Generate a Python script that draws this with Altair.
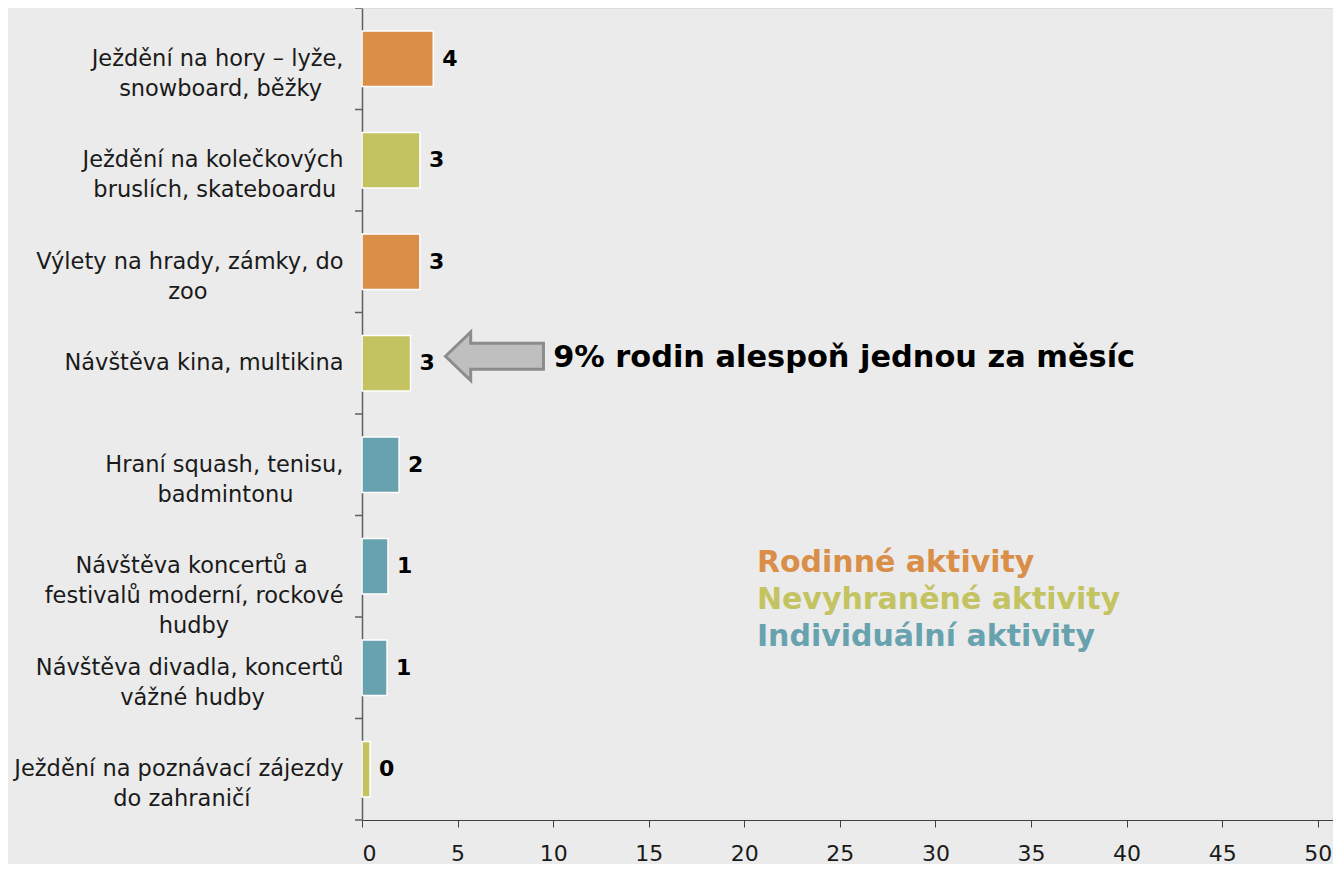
import unicodedata
import altair as alt
import pandas as pd

# ---- data ----
category_lines = [
    ["Ježdění na hory – lyže,", "snowboard, běžky"],
    ["Ježdění na kolečkových", "bruslích, skateboardu"],
    ["Výlety na hrady, zámky, do", "zoo"],
    ["Návštěva kina, multikina"],
    ["Hraní squash, tenisu,", "badmintonu"],
    ["Návštěva koncertů a", "festivalů moderní, rockové", "hudby"],
    ["Návštěva divadla, koncertů", "vážné hudby"],
    ["Ježdění na poznávací zájezdy", "do zahraničí"],
]
values = [3.73, 3.03, 3.03, 2.54, 1.94, 1.36, 1.31, 0.42]
groups = ["Rodinné", "Nevyhraněné", "Rodinné", "Nevyhraněné",
          "Individuální", "Individuální", "Individuální", "Nevyhraněné"]

group_names = ["Rodinné", "Nevyhraněné", "Individuální"]
legend_texts = ["Rodinné aktivity", "Nevyhraněné aktivity", "Individuální aktivity"]
group_colors = ["#D98F48", "#C3C361", "#68A2AF"]

annotation_text = "9% rodin alespoň jednou za měsíc"
annotation_category = 3   # row the arrow points to
arrow_x = 6.93
annotation_x = 10.0
legend_x = 20.66
legend_category = 5

x_ticks = list(range(0, 51, 5))

FONT = "DejaVu Sans"

# approximate DejaVu Sans advance widths (em) to centre multi-line labels
_W = {" ": .318, ",": .318, "–": .5, "a": .613, "b": .635, "c": .550, "d": .635,
      "e": .615, "f": .352, "g": .635, "h": .634, "i": .278, "j": .278, "k": .579,
      "l": .278, "m": .974, "n": .634, "o": .612, "p": .635, "r": .411, "s": .521,
      "t": .392, "u": .634, "v": .592, "w": .818, "x": .592, "y": .592, "z": .525,
      "J": .295, "V": .684, "N": .748, "H": .752}


def text_width(s):
    total = 0.0
    for ch in s:
        base = unicodedata.normalize("NFD", ch)[0]
        total += _W.get(base, 0.6)
    return total


def centred_label(lines):
    widths = [text_width(l) for l in lines]
    m = max(widths)
    out = []
    for l, w in zip(lines, widths):
        n = int(round((m - w) / 2 / _W[" "]))
        # no-break spaces followed by a zero-width space so they are not trimmed
        out.append(l + ("\u00a0" * n + "\u200b" if n else ""))
    return "|".join(out)


labels = [centred_label(l) for l in category_lines]

df = pd.DataFrame({"label": labels, "value": values, "group": groups})

y_scale = alt.Scale(paddingInner=0, paddingOuter=0)
color_scale = alt.Scale(domain=group_names, range=group_colors)

y_main = alt.Y(
    "label:N", sort=labels, scale=y_scale, title=None,
    axis=alt.Axis(
        ticks=False, labelExpr="split(datum.label, '|')", labelFont=FONT,
        labelFontSize=22.5, labelLineHeight=30, labelPadding=19, labelLimit=600,
        labelColor="#1a1a1a", domainColor="#5f5f5f", domainWidth=1.5,
    ),
)

bars = alt.Chart(df).mark_bar(
    height={"band": 0.545}, stroke="white", strokeWidth=1.5
).encode(
    x=alt.X(
        "value:Q", scale=alt.Scale(domain=[0, 50.8], nice=False, zero=True), title=None,
        axis=alt.Axis(
            values=x_ticks, grid=False, tickSize=7, tickColor="#404040",
            domainColor="#404040", labelFont=FONT, labelFontSize=22,
            labelPadding=16, labelColor="#1a1a1a",
        ),
    ),
    y=y_main,
    color=alt.Color("group:N", scale=color_scale, legend=None),
)

value_labels = alt.Chart(df).mark_text(
    align="left", baseline="middle", dx=9, font=FONT, fontSize=22,
    fontWeight="bold", color="black",
).encode(
    x="value:Q",
    y=alt.Y("label:N", sort=labels),
    text=alt.Text("value:Q", format=".0f"),
)

# y-axis ticks between categories
ticks_top = alt.Chart(df).mark_rule(color="#5f5f5f", strokeWidth=1.5).encode(
    y=alt.Y("label:N", sort=labels, bandPosition=0),
    x=alt.value(-7), x2=alt.value(0),
)
ticks_bottom = alt.Chart(df).transform_filter(
    alt.datum.label == labels[-1]
).mark_rule(color="#5f5f5f", strokeWidth=1.5).encode(
    y=alt.Y("label:N", sort=labels, bandPosition=1),
    x=alt.value(-7), x2=alt.value(0),
)

ann_df = pd.DataFrame({
    "label": [labels[annotation_category]],
    "arrow_x": [arrow_x],
    "text_x": [annotation_x],
    "text": [annotation_text],
})

arrow_path = ("M -1 0 L -0.485 -0.495 L -0.485 -0.264 L 1 -0.264 L 1 0.264 "
              "L -0.485 0.264 L -0.485 0.495 Z")
arrow = alt.Chart(ann_df).mark_point(
    shape=arrow_path, size=9600, filled=True, fill="#BFBFBF", stroke="#8C8C8C",
    strokeWidth=3, opacity=1, yOffset=-7,
).encode(
    x="arrow_x:Q",
    y=alt.Y("label:N", sort=labels),
)

ann_text = alt.Chart(ann_df).mark_text(
    align="left", baseline="middle", font=FONT, fontSize=30.4, fontWeight="bold",
    color="black", yOffset=-5,
).encode(
    x="text_x:Q",
    y=alt.Y("label:N", sort=labels),
    text="text:N",
)

legend_layers = []
for i, (t, c) in enumerate(zip(legend_texts, group_colors)):
    ldf = pd.DataFrame({"label": [labels[legend_category]], "x": [legend_x], "text": [t]})
    legend_layers.append(
        alt.Chart(ldf).mark_text(
            align="left", baseline="middle", font=FONT, fontSize=30,
            fontWeight="bold", color=c, yOffset=-3 + 37 * i,
        ).encode(
            x="x:Q",
            y=alt.Y("label:N", sort=labels),
            text="text:N",
        )
    )

chart = alt.layer(
    bars, ticks_top, ticks_bottom, value_labels, arrow, ann_text, *legend_layers
).properties(
    width=971,
    height=812,
    padding={"left": 354, "top": 0, "right": 0, "bottom": 44},
    autosize=alt.AutoSizeParams(type="none"),
    background="#EBEBEB",
).configure_view(stroke=None).configure(font=FONT)

chart.save("out.html", embed_options={"renderer": "svg", "actions": False})
